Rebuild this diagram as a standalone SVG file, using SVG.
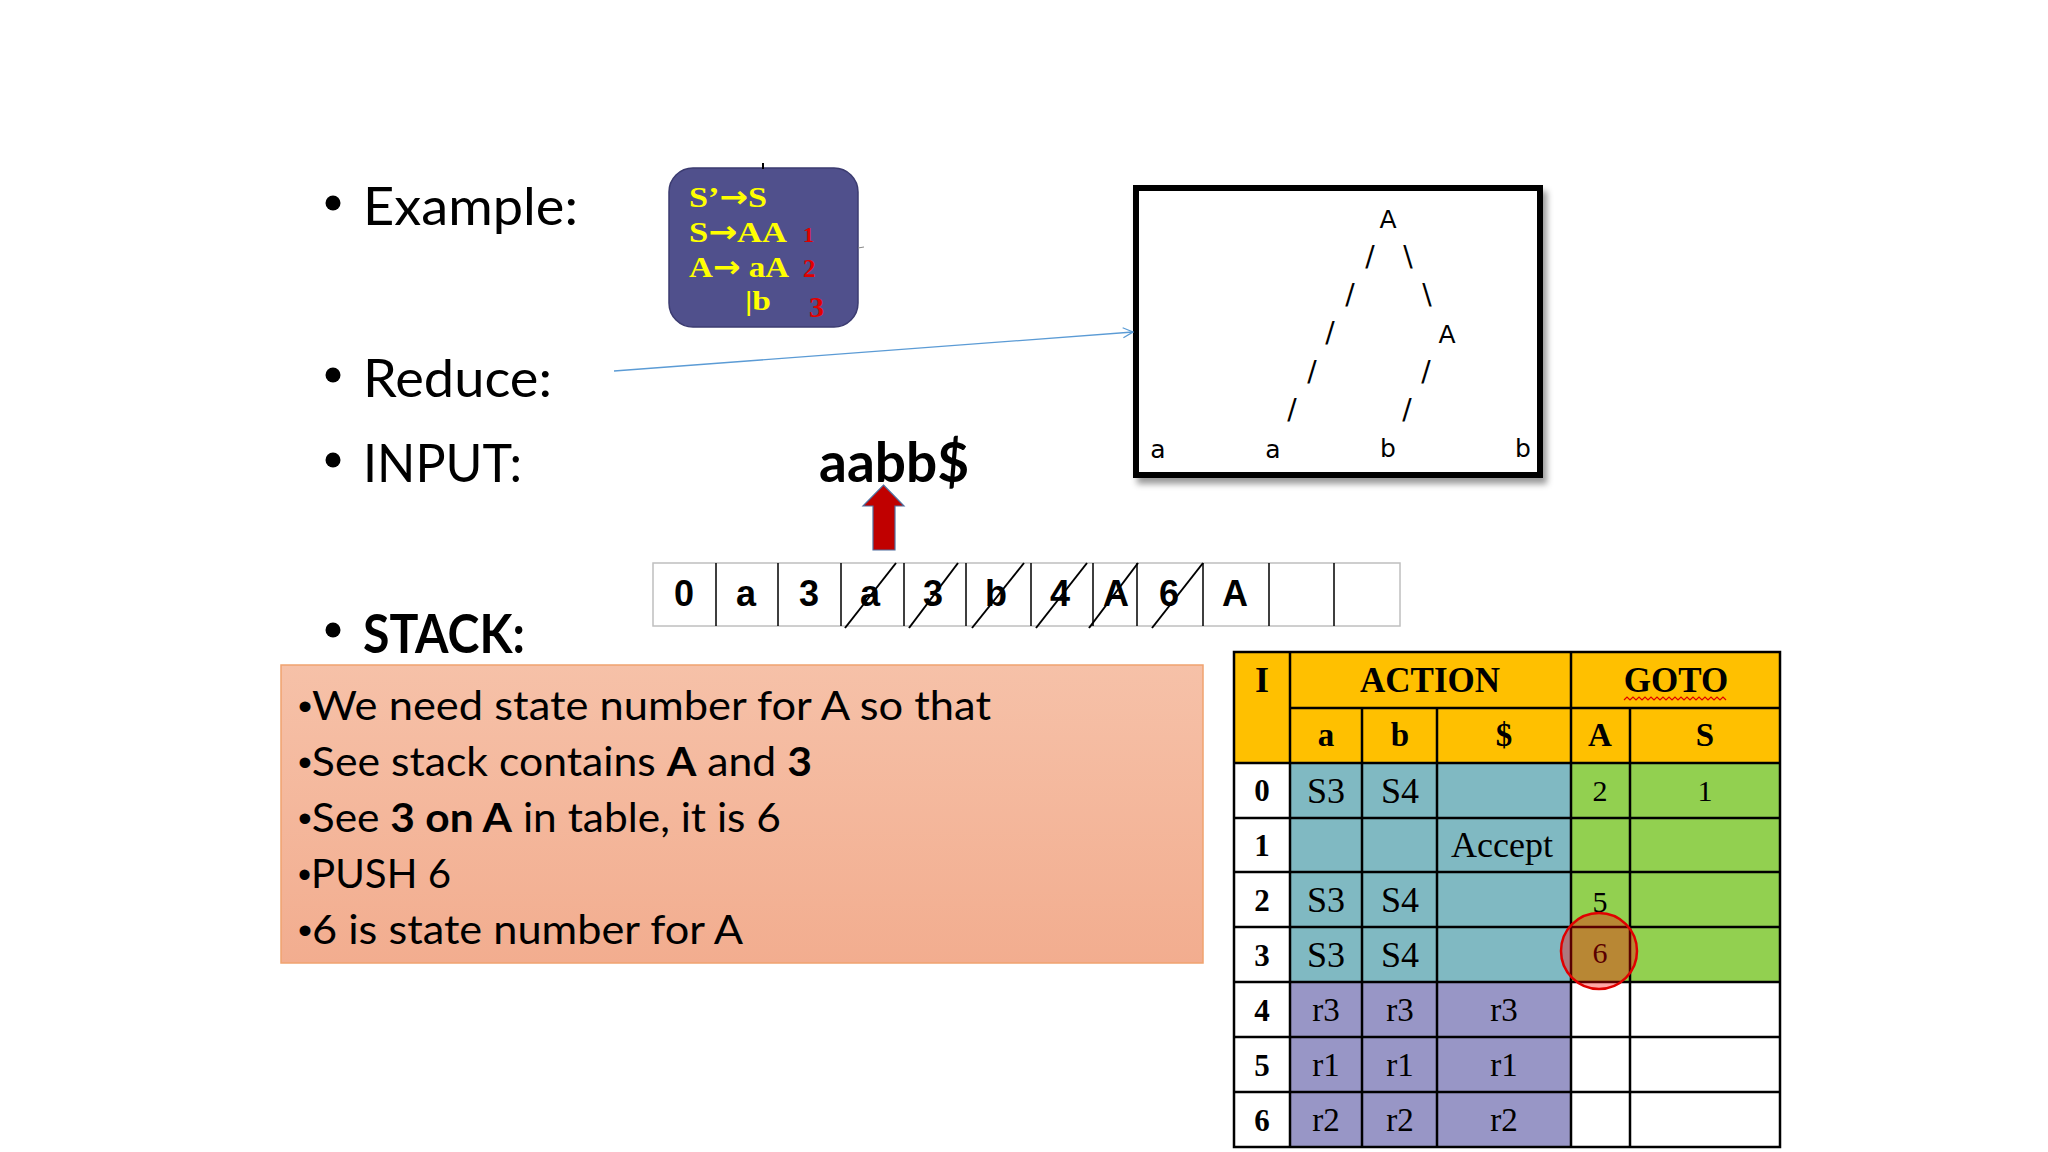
<svg xmlns="http://www.w3.org/2000/svg" width="2048" height="1152" viewBox="0 0 2048 1152">
<style>
.slide{font-family:Lato,"Open Sans","Liberation Sans",sans-serif;fill:#000}
.gram{font-family:"Liberation Serif","Times New Roman",serif;font-weight:bold;fill:#ffff00}
.arr{font-family:"DejaVu Sans",sans-serif;font-weight:bold}
.gnum{font-family:"Liberation Serif","Times New Roman",serif;font-weight:bold;fill:#e00000}
.tree{font-family:"DejaVu Sans",Verdana,sans-serif;font-size:25px;fill:#000;text-anchor:middle}
.sl{font-family:"DejaVu Sans",Verdana,sans-serif;font-size:28px;fill:#000;text-anchor:middle}
.stk{font-family:"Liberation Sans Narrow","Liberation Sans",Arial,sans-serif;font-weight:bold;font-size:36px;fill:#000;text-anchor:middle}
.strike{stroke:#000;stroke-width:2}
.note{font-family:Lato,"Open Sans","Liberation Sans",sans-serif;font-size:41px;fill:#000}
.bul{font-family:"Liberation Sans",Arial,sans-serif;font-size:38px}
.th{font-family:"Liberation Serif","DejaVu Serif",serif;font-weight:bold;fill:#000;text-anchor:middle}
.td{font-family:"Liberation Serif","DejaVu Serif",serif;fill:#000;text-anchor:middle}
.grid{stroke:#000;stroke-width:2.5;fill:none}
</style>
<defs>
<filter id="sh" x="-10%" y="-10%" width="125%" height="130%">
<feDropShadow dx="4" dy="6" stdDeviation="3" flood-color="#000" flood-opacity="0.4"/>
</filter>
<marker id="open" viewBox="0 0 12 12" refX="11" refY="6" markerWidth="12" markerHeight="12" markerUnits="userSpaceOnUse" orient="auto">
<path d="M1,1 L11,6 L1,11" fill="none" stroke="#5b9bd5" stroke-width="1.3"/>
</marker>
<linearGradient id="og" x1="0" y1="0" x2="0" y2="1">
<stop offset="0" stop-color="#f6c1a8"/>
<stop offset="1" stop-color="#f2ad8f"/>
</linearGradient>
</defs>
<rect width="2048" height="1152" fill="#fff"/>

<g id="bullets" class="slide">
<circle cx="333" cy="203" r="7.5"/>
<text x="363" y="225" font-size="53" textLength="215" lengthAdjust="spacingAndGlyphs">Example:</text>
<circle cx="333" cy="375" r="7.5"/>
<text x="363" y="397" font-size="53" textLength="189" lengthAdjust="spacingAndGlyphs">Reduce:</text>
<circle cx="333" cy="460" r="7.5"/>
<text x="363" y="482" font-size="53" textLength="159" lengthAdjust="spacingAndGlyphs">INPUT:</text>
<circle cx="333" cy="630" r="7.5"/>
<text x="363" y="653" font-size="54" font-weight="bold" textLength="162" lengthAdjust="spacingAndGlyphs">STACK:</text>
</g>

<g id="grammar">
<rect x="669" y="168" width="189" height="159" rx="24" ry="24" fill="#50508c" stroke="#3b3b70" stroke-width="1.5"/>
<text class="gram" x="689" y="207" font-size="30" textLength="78" lengthAdjust="spacingAndGlyphs">S’<tspan class="arr">→</tspan>S</text>
<text class="gram" x="689" y="242" font-size="30" textLength="98" lengthAdjust="spacingAndGlyphs">S<tspan class="arr">→</tspan>AA</text>
<text class="gram" x="689" y="277" font-size="30" textLength="100" lengthAdjust="spacingAndGlyphs">A<tspan class="arr">→</tspan> aA</text>
<text class="gram" x="745" y="310" font-size="27" textLength="26" lengthAdjust="spacingAndGlyphs">|b</text>
<text class="gnum" x="803" y="242" font-size="22">1</text>
<text class="gnum" x="803" y="277" font-size="25">2</text>
<text class="gnum" x="809" y="317" font-size="30">3</text>
</g>

<g id="input">
<text class="slide" x="819" y="482" font-size="55" font-weight="bold" textLength="150" lengthAdjust="spacingAndGlyphs">aabb$</text>
<path d="M883.5,485 L904,506 L895,506 L895,550 L873,550 L873,506 L863,506 Z" fill="#c00000" stroke="#4f6f9f" stroke-width="1.2"/>
</g>

<g id="tree">
<rect x="1136" y="188" width="404" height="287" fill="#fff" stroke="#000" stroke-width="6" filter="url(#sh)"/>
<text class="tree" x="1388" y="228">A</text>
<text class="sl" x="1370" y="266">/</text>
<text class="sl" x="1350" y="304">/</text>
<text class="sl" x="1330" y="342">/</text>
<text class="sl" x="1312" y="381">/</text>
<text class="sl" x="1292" y="419">/</text>
<text class="sl" x="1408" y="266">\</text>
<text class="sl" x="1427" y="304">\</text>
<text class="tree" x="1447" y="343">A</text>
<text class="sl" x="1426" y="381">/</text>
<text class="sl" x="1407" y="419">/</text>
<text class="tree" x="1158" y="458">a</text>
<text class="tree" x="1273" y="458">a</text>
<text class="tree" x="1388" y="457">b</text>
<text class="tree" x="1523" y="457">b</text>
</g>

<g id="stack">
<rect x="653" y="563" width="747" height="63" fill="#fff" stroke="#bfbfbf" stroke-width="1.5"/>
<path d="M716,563V626M778,563V626M841,563V626M904,563V626M966,563V626M1031,563V626M1093,563V626M1137,563V626M1203,563V626M1269,563V626M1334,563V626" stroke="#000" stroke-width="1.5"/>
<text class="stk" x="684" y="606">0</text>
<text class="stk" x="746" y="606">a</text>
<text class="stk" x="809" y="606">3</text>
<text class="stk" x="870" y="606">a</text>
<text class="stk" x="933" y="606">3</text>
<text class="stk" x="996" y="606">b</text>
<text class="stk" x="1060" y="606">4</text>
<text class="stk" x="1116" y="606">A</text>
<text class="stk" x="1169" y="606">6</text>
<text class="stk" x="1235" y="606">A</text>
<g class="strike">
<line x1="845" y1="628" x2="896" y2="563"/>
<line x1="909" y1="628" x2="958" y2="563"/>
<line x1="972" y1="628" x2="1024" y2="563"/>
<line x1="1036" y1="628" x2="1087" y2="563"/>
<line x1="1089" y1="628" x2="1138" y2="563"/>
<line x1="1152" y1="628" x2="1203" y2="563"/>
</g>
</g>

<g id="note">
<rect x="281" y="665" width="922" height="298" fill="url(#og)" stroke="#f0a36f" stroke-width="1.5"/>
<text class="note" x="298" y="720" textLength="693" lengthAdjust="spacingAndGlyphs"><tspan class="bul">•</tspan>We need state number for A so that</text>
<text class="note" x="298" y="776" textLength="514" lengthAdjust="spacingAndGlyphs"><tspan class="bul">•</tspan>See stack contains <tspan font-weight="bold">A</tspan> and <tspan font-weight="bold">3</tspan></text>
<text class="note" x="298" y="832" textLength="483" lengthAdjust="spacingAndGlyphs"><tspan class="bul">•</tspan>See <tspan font-weight="bold">3 on A</tspan> in table, it is 6</text>
<text class="note" x="298" y="888" textLength="153" lengthAdjust="spacingAndGlyphs"><tspan class="bul">•</tspan>PUSH 6</text>
<text class="note" x="298" y="944" textLength="445" lengthAdjust="spacingAndGlyphs"><tspan class="bul">•</tspan>6 is state number for A</text>
</g>

<g id="table">
<rect x="1234" y="652" width="546" height="111" fill="#ffc000"/>
<rect x="1234" y="763" width="56" height="384" fill="#fff"/>
<rect x="1290" y="763" width="281" height="219" fill="#80b9c2"/>
<rect x="1290" y="982" width="281" height="165" fill="#9896c6"/>
<rect x="1571" y="763" width="209" height="219" fill="#92d050"/>
<rect x="1571" y="982" width="209" height="165" fill="#fff"/>
<g class="grid">
<rect x="1234" y="652" width="546" height="495"/>
<path d="M1290,708H1780M1234,763H1780M1234,818H1780M1234,872H1780M1234,927H1780M1234,982H1780M1234,1037H1780M1234,1092H1780"/>
<path d="M1290,652V1147M1571,652V1147M1362,708V1147M1437,708V1147M1630,708V1147"/>
</g>
<text class="th" x="1262" y="692" font-size="36">I</text>
<text class="th" x="1430" y="692" font-size="35">ACTION</text>
<text class="th" x="1676" y="692" font-size="35">GOTO</text>
<path d="M1624,700 l3,-3 l3,3 l3,-3 l3,3 l3,-3 l3,3 l3,-3 l3,3 l3,-3 l3,3 l3,-3 l3,3 l3,-3 l3,3 l3,-3 l3,3 l3,-3 l3,3 l3,-3 l3,3 l3,-3 l3,3 l3,-3 l3,3 l3,-3 l3,3 l3,-3 l3,3 l3,-3 l3,3 l3,-3 l3,3 l3,-3 l3,3" fill="none" stroke="#e00000" stroke-width="1.2"/>
<text class="th" x="1326" y="746" font-size="33">a</text>
<text class="th" x="1400" y="746" font-size="33">b</text>
<text class="th" x="1504" y="746" font-size="33">$</text>
<text class="th" x="1600" y="746" font-size="33">A</text>
<text class="th" x="1705" y="746" font-size="33">S</text>
<g class="th" font-size="31">
<text x="1262" y="801">0</text>
<text x="1262" y="856">1</text>
<text x="1262" y="911">2</text>
<text x="1262" y="966">3</text>
<text x="1262" y="1021">4</text>
<text x="1262" y="1076">5</text>
<text x="1262" y="1131">6</text>
</g>
<g class="td" font-size="36">
<text x="1326" y="803">S3</text>
<text x="1400" y="803">S4</text>
<text x="1326" y="912">S3</text>
<text x="1400" y="912">S4</text>
<text x="1326" y="967">S3</text>
<text x="1400" y="967">S4</text>
<text x="1502" y="857">Accept</text>
</g>
<g class="td" font-size="30">
<text x="1600" y="801">2</text>
<text x="1705" y="801">1</text>
<text x="1600" y="912">5</text>
<text x="1600" y="963">6</text>
</g>
<g class="td" font-size="33">
<text x="1326" y="1021">r3</text>
<text x="1400" y="1021">r3</text>
<text x="1504" y="1021">r3</text>
<text x="1326" y="1076">r1</text>
<text x="1400" y="1076">r1</text>
<text x="1504" y="1076">r1</text>
<text x="1326" y="1131">r2</text>
<text x="1400" y="1131">r2</text>
<text x="1504" y="1131">r2</text>
</g>
<circle cx="1599" cy="951" r="38" fill="#ff0000" fill-opacity="0.35" stroke="#e00000" stroke-width="2.5"/>
</g>

<g id="connectors">
<line x1="614" y1="371" x2="1133" y2="332" stroke="#5b9bd5" stroke-width="1.3" marker-end="url(#open)"/>
<line x1="763" y1="163" x2="763" y2="169" stroke="#000" stroke-width="2"/>
<line x1="858" y1="248" x2="864" y2="247" stroke="#888" stroke-width="1"/>
</g>
</svg>
